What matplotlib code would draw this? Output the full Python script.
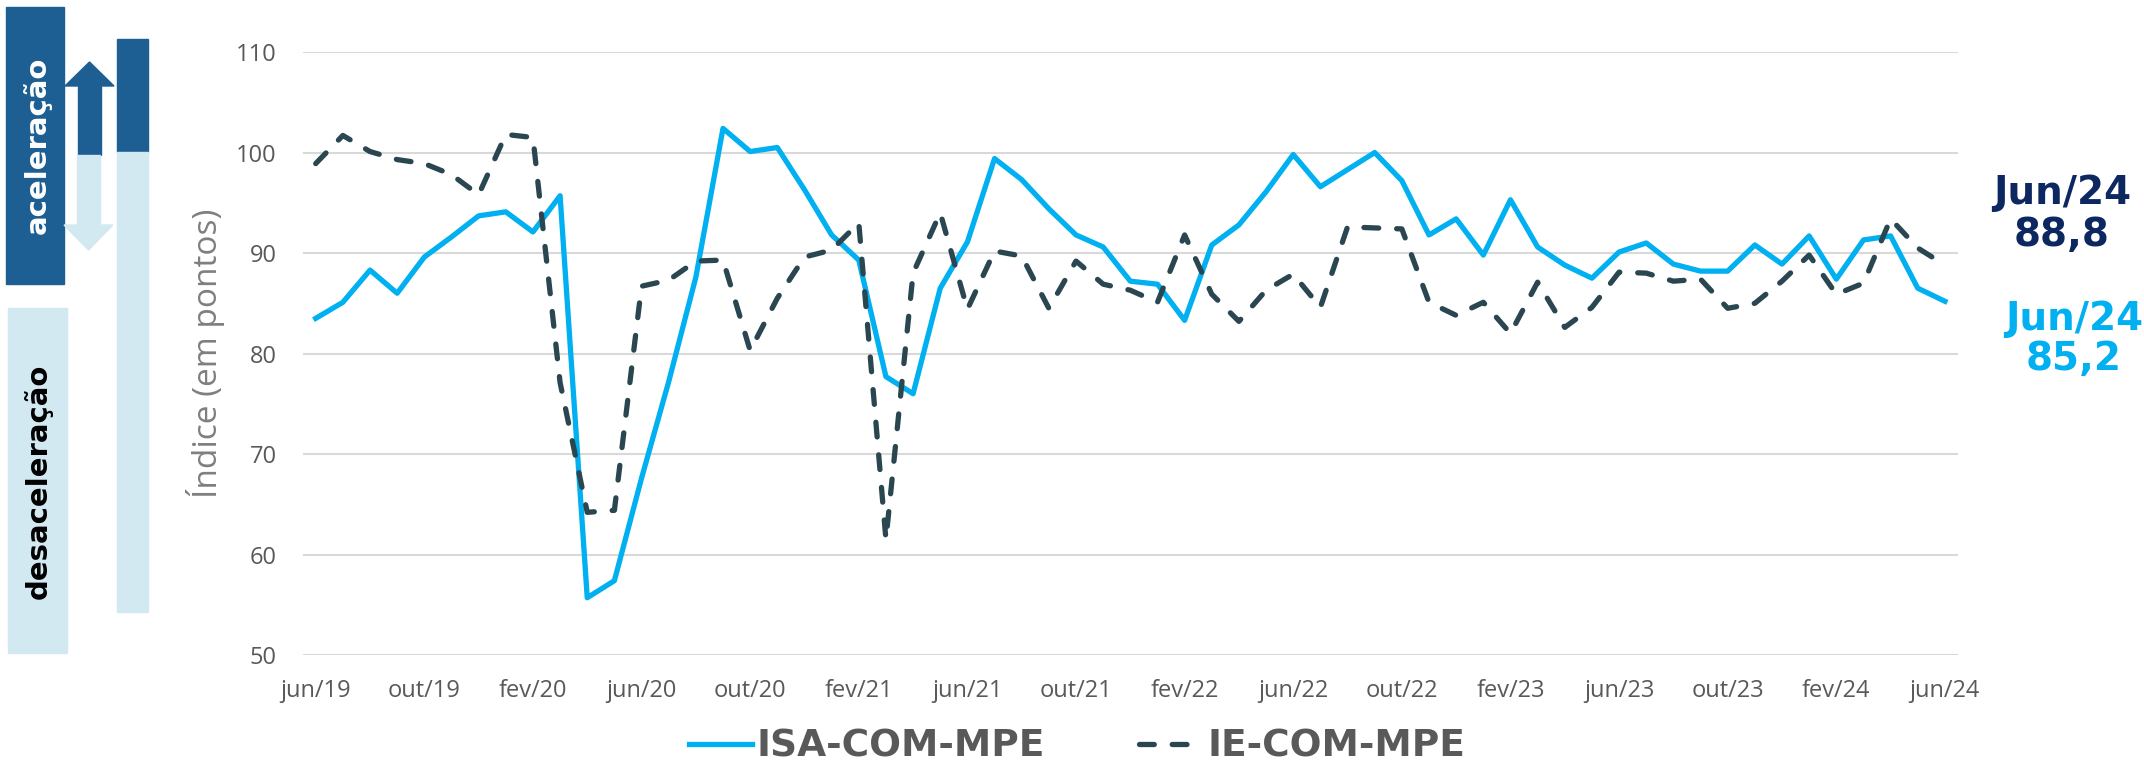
import matplotlib.pyplot as plt
from matplotlib.patches import Rectangle
import numpy as np

# monthly series, jun/19 .. jun/24
isa_com_mpe = [83.5, 85.1, 88.3, 86.0, 89.6, 91.6, 93.7, 94.1, 92.1, 95.7,
               55.7, 57.4, 67.6, 77.2, 87.6, 102.4, 100.1, 100.5, 96.3, 91.8,
               89.3, 77.7, 76.0, 86.5, 91.1, 99.4, 97.3, 94.4, 91.8, 90.6,
               87.2, 86.9, 83.3, 90.8, 92.8, 96.1, 99.8, 96.6, 98.3, 100.0,
               97.2, 91.8, 93.4, 89.8, 95.3, 90.6, 88.8, 87.5, 90.1, 91.0,
               88.9, 88.2, 88.2, 90.8, 88.9, 91.7, 87.4, 91.3, 91.7, 86.5,
               85.2]
ie_com_mpe = [98.9, 101.7, 100.1, 99.3, 98.9, 97.8, 95.8, 101.8, 101.5, 77.1,
              64.2, 64.4, 86.7, 87.3, 89.2, 89.3, 80.3, 85.5, 89.6, 90.3,
              93.0, 61.5, 88.0, 94.0, 84.4, 90.2, 89.7, 84.5, 89.2, 86.9,
              86.3, 85.1, 91.8, 85.9, 83.2, 86.3, 87.9, 84.6, 92.6, 92.5,
              92.4, 85.1, 83.8, 85.1, 82.0, 87.1, 82.6, 84.6, 88.1, 88.0,
              87.2, 87.4, 84.5, 85.0, 87.2, 89.8, 85.9, 87.0, 93.4, 90.5,
              88.8]
tick_labels = ['jun/19', 'out/19', 'fev/20', 'jun/20', 'out/20', 'fev/21',
               'jun/21', 'out/21', 'fev/22', 'jun/22', 'out/22', 'fev/23',
               'jun/23', 'out/23', 'fev/24', 'jun/24']

blue = '#00b0f0'
dark = '#2a4650'
grey = '#595959'

plt.rcParams['font.family'] = ['Open Sans', 'DejaVu Sans']

fig = plt.figure(figsize=(21.44, 7.63), dpi=100)
ax = fig.add_axes([0.1413, 0.1415, 0.7718, 0.7903])

x = np.arange(len(isa_com_mpe))
ax.plot(x, isa_com_mpe, color=blue, lw=3.8, label='ISA-COM-MPE')
ax.plot(x, ie_com_mpe, color=dark, lw=3.8, label='IE-COM-MPE',
        dashes=(2.8, 3.4), dash_capstyle='round')

ax.set_xlim(-0.47, 60.47)
ax.set_ylim(50, 110)
ax.set_yticks(range(50, 111, 10))
ax.set_xticks(np.arange(0, 61, 4))
ax.set_xticklabels(tick_labels)
ax.grid(axis='y', color='#d9d9d9', lw=1.5)
ax.set_axisbelow(True)
for s in ax.spines.values():
    s.set_visible(False)
ax.tick_params(axis='both', length=0, labelsize=17, labelcolor=grey)
ax.tick_params(axis='y', pad=19)
ax.tick_params(axis='x', pad=17)
ax.set_ylabel('Índice (em pontos)', fontsize=24, color='#7f7f7f', labelpad=8)

# end labels
fig.text(2062 / 2144, 1 - 214 / 763, 'Jun/24\n88,8', color='#0d2760',
         fontsize=28, fontweight='bold', ha='center', va='center',
         linespacing=1.1, family='DejaVu Sans')
fig.text(2074 / 2144, 1 - 339 / 763, 'Jun/24\n85,2', color=blue,
         fontsize=28, fontweight='bold', ha='center', va='center',
         linespacing=1.1, family='DejaVu Sans')

# legend
leg = fig.legend(loc='center', bbox_to_anchor=(0.5023, 0.021), ncol=2,
                 frameon=False, handlelength=1.7, columnspacing=2.5,
                 handletextpad=0.12,
                 prop={'family': ['Liberation Sans Narrow', 'DejaVu Sans'],
                       'weight': 'bold', 'size': 27})
for t in leg.get_texts():
    t.set_color(grey)

# left side acceleration panel
W, H = 2144, 763
def box(x0, y0, x1, y1, c):
    fig.patches.append(Rectangle((x0 / W, 1 - y1 / H), (x1 - x0) / W,
                                 (y1 - y0) / H, transform=fig.transFigure,
                                 color=c, zorder=0))

dk = '#1d5f93'
lt = '#d3e9f2'
box(6, 7, 64, 284, dk)
box(8, 308, 67, 653, lt)
box(117, 39, 148, 152, dk)
box(117, 152, 148, 612, lt)
# up arrow
box(78, 86, 101, 155, dk)
fig.patches.append(plt.Polygon([(65 / W, 1 - 86 / H), (114 / W, 1 - 86 / H),
                                (89.5 / W, 1 - 62 / H)], closed=True,
                               transform=fig.transFigure, color=dk))
# down arrow
box(77, 155, 100, 225, lt)
fig.patches.append(plt.Polygon([(64 / W, 1 - 225 / H), (113 / W, 1 - 225 / H),
                                (88.5 / W, 1 - 250 / H)], closed=True,
                               transform=fig.transFigure, color=lt))
fig.text(37 / W, 1 - 145 / H, 'aceleração', rotation=90, color='white',
         fontsize=21, fontweight='bold', ha='center', va='center',
         family='DejaVu Sans')
fig.text(38 / W, 1 - 481 / H, 'desaceleração', rotation=90, color='black',
         fontsize=21, fontweight='bold', ha='center', va='center',
         family='DejaVu Sans')

plt.savefig('out.png', dpi=100)
